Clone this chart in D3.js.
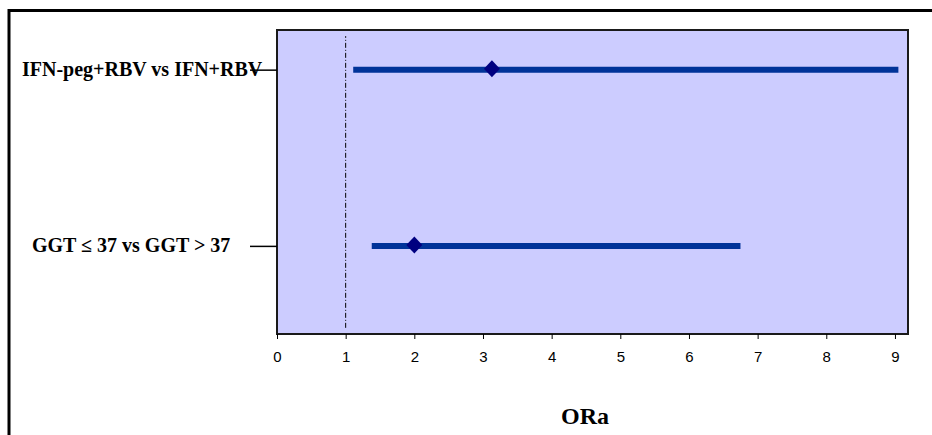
<!DOCTYPE html>
<html lang="en">
<head>
  <meta charset="UTF-8">
  <title>ORa</title>
  <script src="https://d3js.org/d3.v7.min.js"></script>
  <style>
    body {
      margin: 0;
      background: #fff;
    }
    svg {
      display: block;
    }
    .cat-label {
      font-family: "Liberation Serif", "Times New Roman", serif;
      font-weight: bold;
      font-size: 20px;
    }
  </style>
</head>
<body>
  <svg width="932" height="435"></svg>

  <script>
    // data
    const categories = ["GGT ≤ 37 vs GGT > 37", "IFN-peg+RBV vs IFN+RBV"];
    const rowPos = [1, 3];
    const ora = [2.0, 3.13];
    const ciLow = [1.38, 1.11];
    const ciHigh = [6.75, 9.05];
    const xTicks = [0, 1, 2, 3, 4, 5, 6, 7, 8, 9];
    const refX = 1;
    const refY = [0.07, 3.38];
    const axisTitle = "ORa";

    const plot = { left: 277, top: 30, right: 908, bottom: 334 };

    const svg = d3.select("svg");

    // outer chart frame (runs off the right and bottom edges)
    svg.append("rect")
      .attr("x", 9)
      .attr("y", 10.5)
      .attr("width", 1000)
      .attr("height", 1000)
      .attr("fill", "none")
      .attr("stroke", "#000")
      .attr("stroke-width", 3);

    const x = d3.scaleLinear().domain([0, 9.19]).range([plot.left, plot.right]);
    const y = d3.scaleLinear().domain([0, 3.45]).range([plot.bottom, plot.top]);

    // plot area
    svg.append("rect")
      .attr("x", plot.left)
      .attr("y", plot.top)
      .attr("width", plot.right - plot.left)
      .attr("height", plot.bottom - plot.top)
      .attr("fill", "#ccccff")
      .attr("stroke", "#1a1a1a")
      .attr("stroke-width", 2);

    // reference line at 1
    svg.append("line")
      .attr("x1", x(refX)).attr("x2", x(refX))
      .attr("y1", y(refY[0])).attr("y2", y(refY[1]))
      .attr("stroke", "#000")
      .attr("stroke-width", 1)
      .attr("stroke-dasharray", "5,2,1,2");

    // x axis
    const xAxis = d3.axisBottom(x)
      .tickValues(xTicks)
      .tickSize(5)
      .tickPadding(12)
      .tickFormat(d3.format("d"));

    const gx = svg.append("g")
      .attr("transform", `translate(0,${plot.bottom})`)
      .call(xAxis);
    gx.select(".domain").remove();
    gx.selectAll(".tick line").attr("stroke", "#000").attr("stroke-width", 1);
    gx.selectAll(".tick text")
      .attr("fill", "#000")
      .style("font-family", "'Liberation Sans', Arial, sans-serif")
      .style("font-size", "15px");

    // y ticks (category rows)
    const yAxis = d3.axisLeft(y)
      .tickValues(rowPos)
      .tickSize(27)
      .tickFormat("");
    const gy = svg.append("g")
      .attr("transform", `translate(${plot.left},0)`)
      .call(yAxis);
    gy.select(".domain").remove();
    gy.selectAll(".tick line").attr("stroke", "#000").attr("stroke-width", 1.5);

    // category labels
    const labelX = [32, 22];
    svg.selectAll(".cat-label")
      .data(categories)
      .join("text")
      .attr("class", "cat-label")
      .attr("x", (d, i) => labelX[i])
      .attr("y", (d, i) => y(rowPos[i]))
      .attr("dy", "0.33em")
      .attr("fill", "#000")
      .text(d => d);

    // confidence interval bars
    svg.selectAll(".ci")
      .data(categories)
      .join("line")
      .attr("class", "ci")
      .attr("x1", (d, i) => x(ciLow[i]))
      .attr("x2", (d, i) => x(ciHigh[i]))
      .attr("y1", (d, i) => y(rowPos[i]))
      .attr("y2", (d, i) => y(rowPos[i]))
      .attr("stroke", "#003399")
      .attr("stroke-width", 6);

    // point estimates (diamonds)
    svg.selectAll(".pt")
      .data(categories)
      .join("path")
      .attr("class", "pt")
      .attr("d", "M0,-8.5L8,0L0,8.5L-8,0Z")
      .attr("transform", (d, i) => `translate(${x(ora[i])},${y(rowPos[i]) - 1})`)
      .attr("fill", "#000080");

    // axis title
    svg.append("text")
      .attr("x", 585)
      .attr("y", 424)
      .attr("text-anchor", "middle")
      .attr("font-family", "'Liberation Serif', 'Times New Roman', serif")
      .attr("font-weight", "bold")
      .attr("font-size", 24)
      .attr("fill", "#000")
      .text(axisTitle);
  </script>
</body>
</html>
